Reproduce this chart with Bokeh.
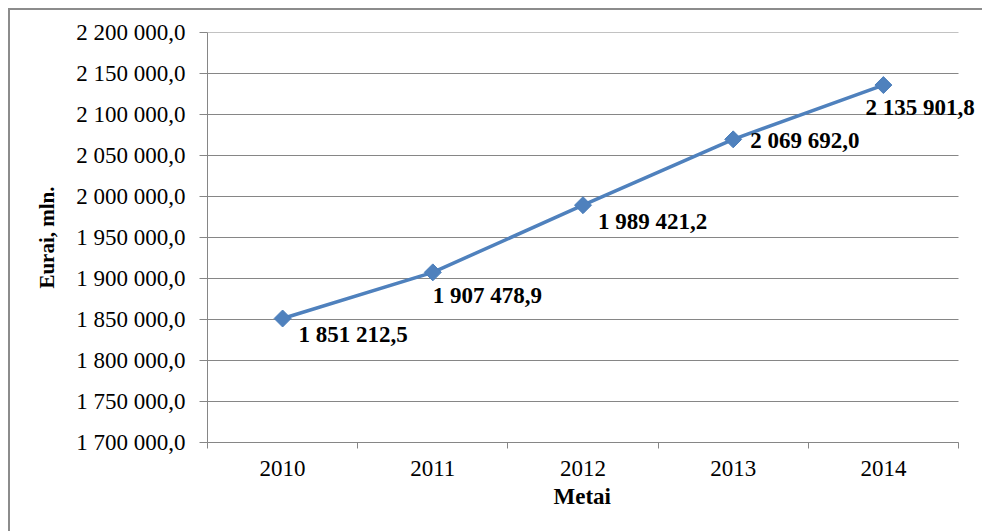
from bokeh.plotting import figure
from bokeh.models import Range1d, FixedTicker, ColumnDataSource, Title
from bokeh.core.properties import value
from bokeh.embed import file_html
from bokeh.resources import INLINE
import numpy as np

# Yearly totals, million euro
years = ["2010", "2011", "2012", "2013", "2014"]
totals = [1851212.5, 1907478.9, 1989421.2, 2069692.0, 2135901.8]

# Value axis ticks and their printed form
y_ticks = [1700000, 1750000, 1800000, 1850000, 1900000, 1950000,
           2000000, 2050000, 2100000, 2150000, 2200000]
y_tick_labels = ["1 700 000,0", "1 750 000,0", "1 800 000,0", "1 850 000,0",
                 "1 900 000,0", "1 950 000,0", "2 000 000,0", "2 050 000,0",
                 "2 100 000,0", "2 150 000,0", "2 200 000,0"]

y_title = "Eurai, mln."
x_title = "Metai"

SERIF = "'Liberation Serif', 'Times New Roman', serif"
BLUE = "#4F81BD"
GRID = "#868686"


def fmt(v):
    return f"{v:,.1f}".replace(",", " ").replace(".", ",")


n = len(years)
centers = [i + 0.5 for i in range(n)]
bounds = list(range(n + 1))

# per-label nudges (pixels, right / down) so the value labels sit clear of the line
label_dx = [16, 0, 15, 17, -18]
label_dy = [16, 23, 16, 1, 22]

W, H = 982, 531
PLOT_L, PLOT_R = 207, 958          # drawn category area, px
# the frame runs on to the right edge so the last value label has room;
# the category area itself still ends at PLOT_R
x_end = n * (W - PLOT_L) / (PLOT_R - PLOT_L)

src = ColumnDataSource(dict(
    x=centers, y=totals, label=[fmt(v) for v in totals],
    dx=label_dx, dy=label_dy,
))

p = figure(width=W, height=H, output_backend="svg", toolbar_location=None,
           x_range=Range1d(0, x_end), y_range=Range1d(y_ticks[0], y_ticks[-1]),
           min_border_left=PLOT_L, min_border_right=0,
           min_border_top=32, min_border_bottom=89,
           # grey rule along the top and left of the chart box
           styles={"box-shadow": "inset 8px 8px 0 #ffffff, inset 10px 10px 0 #8c8c8c"})
p.outline_line_color = None
p.background_fill_color = "white"
p.border_fill_color = None

# x axis: ticks at category boundaries, year names in the middle
xa = p.xaxis[0]
xa.bounds = (0, n)
xa.ticker = FixedTicker(ticks=centers, minor_ticks=bounds)
xa.major_label_overrides = {c: y for c, y in zip(centers, years)}
xa.major_tick_line_color = None
xa.minor_tick_line_color = GRID
xa.minor_tick_out = 6
xa.minor_tick_in = 0
xa.axis_line_color = GRID
xa.major_label_text_font = SERIF
xa.major_label_text_font_size = "23px"
xa.major_label_text_color = "black"
xa.major_label_standoff = 12

# x axis title, centred under the category area
p.add_layout(Title(text=x_title, align="left", offset=346, standoff=7,
                   text_font=SERIF, text_font_style="bold",
                   text_font_size="23px", text_color="black"), "below")

ya = p.yaxis[0]
ya.ticker = FixedTicker(ticks=y_ticks, minor_ticks=[])
ya.major_label_overrides = {t: s for t, s in zip(y_ticks, y_tick_labels)}
ya.major_tick_line_color = GRID
ya.major_tick_out = 8
ya.major_tick_in = 0
ya.minor_tick_line_color = None
ya.axis_line_color = GRID
ya.major_label_text_font = SERIF
ya.major_label_text_font_size = "23px"
ya.major_label_text_color = "black"
ya.major_label_standoff = 14
ya.axis_label = y_title
ya.axis_label_text_font = SERIF
ya.axis_label_text_font_style = "bold"
ya.axis_label_text_font_size = "21px"
ya.axis_label_text_color = "black"
ya.axis_label_standoff = 14

# horizontal gridlines over the category area only
p.xgrid.grid_line_color = None
p.ygrid.grid_line_color = None
p.segment(x0=[0] * len(y_ticks), x1=[n] * len(y_ticks), y0=y_ticks, y1=y_ticks,
          line_color=GRID, line_width=1)

p.line("x", "y", source=src, line_color=BLUE, line_width=3.5)
p.scatter("x", "y", source=src, marker="square", angle=np.pi / 4, size=12,
          fill_color=BLUE, line_color="#4A7EBB")

# value labels
p.text("x", "y", text="label", source=src, x_offset="dx", y_offset="dy",
       text_font=value(SERIF), text_font_style="bold", text_font_size="23px",
       text_color="black", text_align="left", text_baseline="middle")

open("out.html", "w").write(file_html(p, INLINE))
